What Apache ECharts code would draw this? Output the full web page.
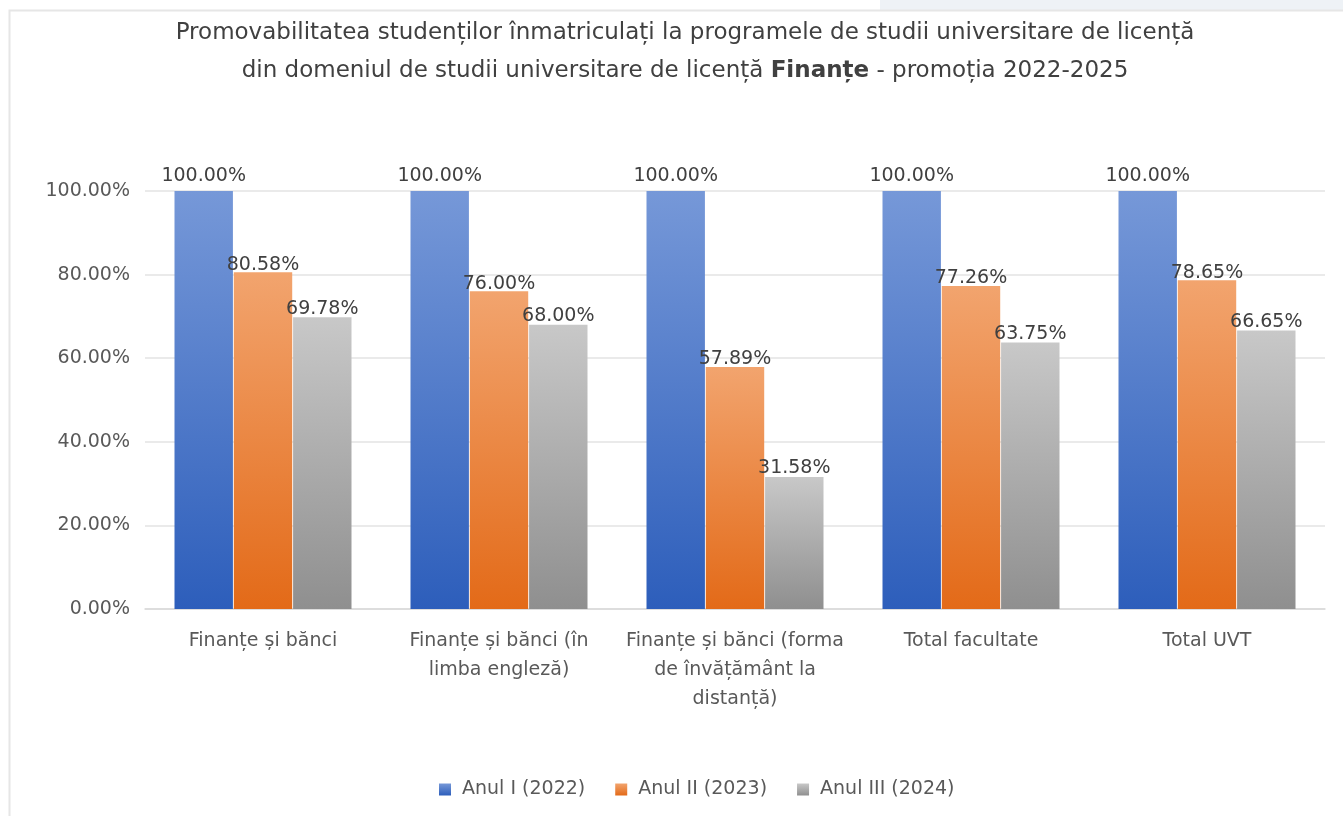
<!DOCTYPE html>
<html>
<head>
<meta charset="utf-8">
<script src="https://cdn.jsdelivr.net/npm/echarts@6/dist/echarts.min.js"></script>
<style>
html,body{margin:0;padding:0;background:#fff;}
#chart{width:1343px;height:816px;}
</style>
</head>
<body>
<div id="chart"></div>
<script>
const categories = [
  'Finanțe și bănci',
  'Finanțe și bănci (în\nlimba engleză)',
  'Finanțe și bănci (forma\nde învățământ la\ndistanță)',
  'Total facultate',
  'Total UVT'
];
const seriesNames = ['Anul I (2022)', 'Anul II (2023)', 'Anul III (2024)'];
const anul1 = [100.00, 100.00, 100.00, 100.00, 100.00];
const anul2 = [80.58, 76.00, 57.89, 77.26, 78.65];
const anul3 = [69.78, 68.00, 31.58, 63.75, 66.65];
const yTicks = [0, 20, 40, 60, 80, 100];

function grad(top, bottom) {
  return new echarts.graphic.LinearGradient(0, 0, 0, 1, [
    {offset: 0, color: top}, {offset: 1, color: bottom}
  ]);
}
const chart = echarts.init(document.getElementById('chart'), null, {renderer: 'canvas'});
const pctFmt = v => Number(v).toFixed(2) + '%';
function mk(name, data, top, bottom, dist) {
  return {
    name: name, type: 'bar', data: data,
    barGap: '1.5%', barCategoryGap: '25%',
    itemStyle: {color: grad(top, bottom)},
    label: {
      show: true, position: 'top', distance: dist,
      formatter: p => pctFmt(p.value),
      fontFamily: 'DejaVu Sans', fontSize: 19, color: '#404040'
    },
    emphasis: {disabled: true}
  };
}
chart.setOption({
  animation: false,
  backgroundColor: '#ffffff',
  graphic: [
    {type: 'rect', shape: {x: 880, y: 0, width: 463, height: 10}, style: {fill: '#eef2f6'}, silent: true},
    {type: 'rect', shape: {x: 9.5, y: 10.5, width: 1340, height: 810}, style: {fill: 'none', stroke: '#e6e6e6', lineWidth: 2}, silent: true}
  ],
  title: {
    text: 'Promovabilitatea studenților înmatriculați la programele de studii universitare de licență\ndin domeniul de studii universitare de licență {b|Finanțe} - promoția 2022-2025',
    left: 680, textAlign: 'center', top: 9,
    textStyle: {
      fontFamily: 'DejaVu Sans', fontSize: 23, fontWeight: 'normal', color: '#404040', lineHeight: 38,
      rich: {b: {fontFamily: 'DejaVu Sans', fontSize: 23, fontWeight: 'bold', color: '#404040', lineHeight: 38}}
    }
  },
  legend: {
    data: seriesNames,
    top: 775, left: 434,
    itemWidth: 12, itemHeight: 12, itemGap: 30, icon: 'rect',
    textStyle: {fontFamily: 'DejaVu Sans', fontSize: 19, color: '#595959', padding: [0, 0, 0, 6]}
  },
  grid: {left: 145, right: 18, top: 191, bottom: 207, containLabel: false},
  xAxis: {
    type: 'category', data: categories,
    axisLine: {lineStyle: {color: '#d9d9d9', width: 1.5}},
    axisTick: {show: false},
    axisLabel: {
      interval: 0, margin: 18, lineHeight: 29,
      fontFamily: 'DejaVu Sans', fontSize: 19, color: '#595959', align: 'center'
    }
  },
  yAxis: {
    type: 'value', min: yTicks[0], max: yTicks[yTicks.length - 1], interval: 20,
    axisLine: {show: false}, axisTick: {show: false},
    splitLine: {lineStyle: {color: '#e3e3e3', width: 1.5}},
    axisLabel: {fontFamily: 'DejaVu Sans', fontSize: 19, color: '#595959', margin: 15, formatter: v => pctFmt(v)}
  },
  series: [
    mk(seriesNames[0], anul1, '#7698d8', '#2d5ebb', 5),
    mk(seriesNames[1], anul2, '#f2a46e', '#e36a18', -2),
    mk(seriesNames[2], anul3, '#c8c8c8', '#8f8f8f', -1)
  ]
});
</script>
</body>
</html>
